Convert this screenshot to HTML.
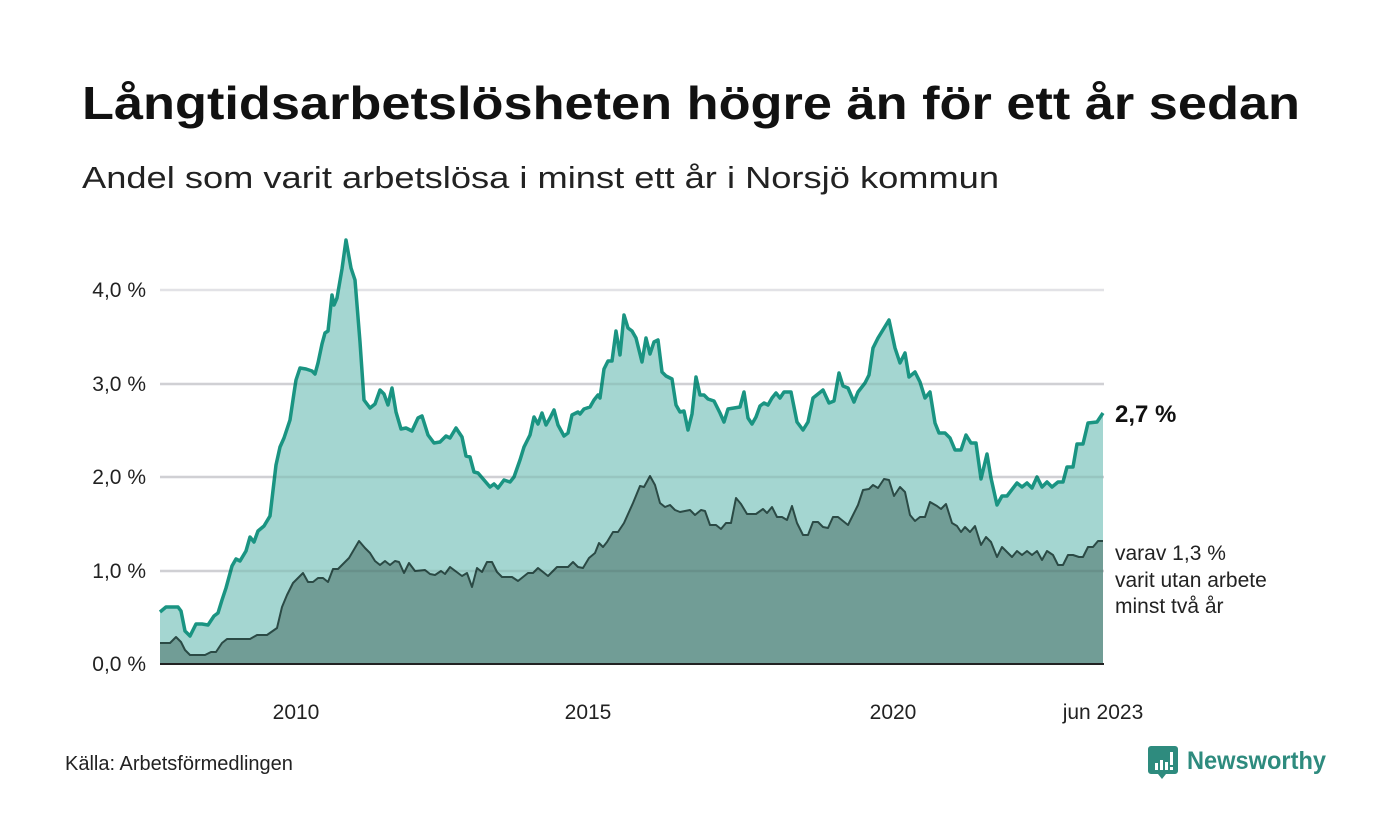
<!DOCTYPE html>
<html><head><meta charset="utf-8"><style>html,body{margin:0;padding:0;background:#fff}svg{display:block}</style></head><body>
<svg width="1400" height="840" xmlns="http://www.w3.org/2000/svg" font-family="'Liberation Sans', 'DejaVu Sans', sans-serif">
<rect width="1400" height="840" fill="#fff"/>
<text x="82" y="119" font-size="46" font-weight="bold" fill="#111" textLength="1218" lengthAdjust="spacingAndGlyphs">Långtidsarbetslösheten högre än för ett år sedan</text>
<text x="82" y="188" font-size="31" fill="#222" textLength="917" lengthAdjust="spacingAndGlyphs">Andel som varit arbetslösa i minst ett år i Norsjö kommun</text>
<g stroke="#e2e2e6" stroke-width="2.5">
<line x1="160" y1="290" x2="1104" y2="290"/><line x1="160" y1="384" x2="1104" y2="384"/><line x1="160" y1="477" x2="1104" y2="477"/><line x1="160" y1="571" x2="1104" y2="571"/>
</g>
<g font-size="21" fill="#222" text-anchor="end">
<text x="146" y="297">4,0 %</text><text x="146" y="391">3,0 %</text><text x="146" y="484">2,0 %</text><text x="146" y="578">1,0 %</text><text x="146" y="671">0,0 %</text>
</g>
<polygon fill="#a4d6d1" points="160,664 160,612 166,607 172,607 178,607 181,611 185,631 190,636 196,624 202,624 208,625 214,616 218,613 222,600 226,588 232,566 236,559 240,561 246,551 250,537 254,542 258,531 264,526 270,516 276,465 280,447 284,438 290,420 294,393 296,380 300,368 306,369 312,371 315,374 318,363 322,344 325,333 328,331 332,295 334,305 337,298 342,269 346,240 351,268 355,280 360,342 364,400 370,408 375,404 380,390 384,394 388,405 392,388 396,412 401,429 406,428 412,431 418,418 422,416 428,435 434,443 440,442 446,436 450,438 456,428 462,437 466,456 470,457 474,472 478,473 484,480 490,487 494,484 498,488 504,480 510,482 514,477 520,460 524,447 530,435 534,417 538,424 542,413 546,425 550,418 554,410 558,425 564,436 568,433 572,415 578,412 580,414 584,409 590,407 594,400 598,395 600,398 604,369 608,361 612,361 616,331 620,355 624,315 628,328 632,331 636,338 642,362 646,338 650,354 654,342 658,340 662,372 666,376 672,379 676,405 680,412 684,411 688,430 692,414 696,377 700,395 704,395 708,399 714,401 720,413 724,422 728,409 734,408 740,407 744,392 748,418 752,424 756,417 760,406 764,403 768,405 772,398 776,393 780,398 784,392 791,392 797,422 803,430 808,422 813,398 823,390 829,403 834,401 839,373 843,386 848,388 854,402 858,392 865,383 869,375 873,348 878,338 889,320 895,348 900,363 905,353 909,377 915,372 920,382 925,398 930,392 935,423 939,433 945,433 950,438 955,450 961,450 966,435 971,443 976,443 981,479 987,454 991,478 997,505 1002,496 1007,496 1017,483 1022,487 1027,483 1032,488 1037,477 1042,487 1047,482 1052,487 1058,482 1063,482 1067,467 1073,467 1077,444 1083,444 1088,423 1097,422 1103,413 1103,664"/>
<polyline fill="none" stroke="#1a9482" stroke-width="3.5" stroke-linejoin="round" points="160,612 166,607 172,607 178,607 181,611 185,631 190,636 196,624 202,624 208,625 214,616 218,613 222,600 226,588 232,566 236,559 240,561 246,551 250,537 254,542 258,531 264,526 270,516 276,465 280,447 284,438 290,420 294,393 296,380 300,368 306,369 312,371 315,374 318,363 322,344 325,333 328,331 332,295 334,305 337,298 342,269 346,240 351,268 355,280 360,342 364,400 370,408 375,404 380,390 384,394 388,405 392,388 396,412 401,429 406,428 412,431 418,418 422,416 428,435 434,443 440,442 446,436 450,438 456,428 462,437 466,456 470,457 474,472 478,473 484,480 490,487 494,484 498,488 504,480 510,482 514,477 520,460 524,447 530,435 534,417 538,424 542,413 546,425 550,418 554,410 558,425 564,436 568,433 572,415 578,412 580,414 584,409 590,407 594,400 598,395 600,398 604,369 608,361 612,361 616,331 620,355 624,315 628,328 632,331 636,338 642,362 646,338 650,354 654,342 658,340 662,372 666,376 672,379 676,405 680,412 684,411 688,430 692,414 696,377 700,395 704,395 708,399 714,401 720,413 724,422 728,409 734,408 740,407 744,392 748,418 752,424 756,417 760,406 764,403 768,405 772,398 776,393 780,398 784,392 791,392 797,422 803,430 808,422 813,398 823,390 829,403 834,401 839,373 843,386 848,388 854,402 858,392 865,383 869,375 873,348 878,338 889,320 895,348 900,363 905,353 909,377 915,372 920,382 925,398 930,392 935,423 939,433 945,433 950,438 955,450 961,450 966,435 971,443 976,443 981,479 987,454 991,478 997,505 1002,496 1007,496 1017,483 1022,487 1027,483 1032,488 1037,477 1042,487 1047,482 1052,487 1058,482 1063,482 1067,467 1073,467 1077,444 1083,444 1088,423 1097,422 1103,413"/>
<polygon fill="#719d96" points="160,664 160,643 170,643 176,637 181,642 185,650 190,655 205,655 211,652 216,652 222,643 227,639 250,639 257,635 267,635 277,628 282,607 287,595 293,583 303,573 308,582 313,582 318,578 323,578 328,582 333,569 338,569 349,558 359,541 365,548 370,553 375,561 380,565 385,561 390,565 395,561 399,562 404,573 409,563 415,571 425,570 430,574 435,575 441,571 445,574 450,567 462,576 467,573 472,587 477,568 482,572 487,562 492,562 497,572 502,577 512,577 518,581 528,573 533,573 538,568 548,576 557,567 568,567 573,562 578,567 583,568 589,558 595,553 599,543 603,547 607,542 613,532 618,532 624,523 633,503 640,486 644,487 650,476 655,485 660,503 665,507 670,505 675,510 680,512 685,511 690,510 695,515 701,510 705,511 710,525 716,525 721,529 726,523 731,523 736,498 741,504 747,514 756,514 763,509 767,513 772,507 777,517 782,517 787,520 792,506 797,523 803,535 808,535 813,522 818,522 823,527 828,528 833,517 838,517 848,525 858,505 863,490 869,489 873,485 878,488 884,479 889,480 894,496 900,487 905,492 910,515 915,521 920,517 925,517 930,502 937,506 941,509 946,504 952,523 957,526 961,532 965,527 970,532 975,526 981,545 986,537 991,542 997,557 1002,547 1012,557 1017,551 1022,555 1027,551 1032,555 1037,551 1042,560 1047,551 1053,555 1058,565 1063,565 1068,555 1073,555 1079,557 1083,557 1088,547 1093,547 1098,541 1103,541 1103,664"/>
<polyline fill="none" stroke="#2b4a45" stroke-width="2" stroke-linejoin="round" points="160,643 170,643 176,637 181,642 185,650 190,655 205,655 211,652 216,652 222,643 227,639 250,639 257,635 267,635 277,628 282,607 287,595 293,583 303,573 308,582 313,582 318,578 323,578 328,582 333,569 338,569 349,558 359,541 365,548 370,553 375,561 380,565 385,561 390,565 395,561 399,562 404,573 409,563 415,571 425,570 430,574 435,575 441,571 445,574 450,567 462,576 467,573 472,587 477,568 482,572 487,562 492,562 497,572 502,577 512,577 518,581 528,573 533,573 538,568 548,576 557,567 568,567 573,562 578,567 583,568 589,558 595,553 599,543 603,547 607,542 613,532 618,532 624,523 633,503 640,486 644,487 650,476 655,485 660,503 665,507 670,505 675,510 680,512 685,511 690,510 695,515 701,510 705,511 710,525 716,525 721,529 726,523 731,523 736,498 741,504 747,514 756,514 763,509 767,513 772,507 777,517 782,517 787,520 792,506 797,523 803,535 808,535 813,522 818,522 823,527 828,528 833,517 838,517 848,525 858,505 863,490 869,489 873,485 878,488 884,479 889,480 894,496 900,487 905,492 910,515 915,521 920,517 925,517 930,502 937,506 941,509 946,504 952,523 957,526 961,532 965,527 970,532 975,526 981,545 986,537 991,542 997,557 1002,547 1012,557 1017,551 1022,555 1027,551 1032,555 1037,551 1042,560 1047,551 1053,555 1058,565 1063,565 1068,555 1073,555 1079,557 1083,557 1088,547 1093,547 1098,541 1103,541"/>
<g stroke="#000" stroke-opacity="0.08" stroke-width="2.5">
<line x1="160" y1="477" x2="1104" y2="477"/><line x1="160" y1="571" x2="1104" y2="571"/><line x1="160" y1="384" x2="1104" y2="384"/>
</g>
<line x1="160" y1="664" x2="1104" y2="664" stroke="#222" stroke-width="2"/>
<g font-size="21" fill="#222" text-anchor="middle">
<text x="296" y="719">2010</text><text x="588" y="719">2015</text><text x="893" y="719">2020</text><text x="1103" y="719">jun 2023</text>
</g>
<text x="1115" y="422" font-size="24" font-weight="bold" fill="#111">2,7 %</text>
<g font-size="21" fill="#222">
<text x="1115" y="560">varav 1,3 %</text><text x="1115" y="587">varit utan arbete</text><text x="1115" y="613">minst två år</text>
</g>
<text x="65" y="770" font-size="20" fill="#222">Källa: Arbetsförmedlingen</text>
<g>
<path d="M1151,746 h24 a3,3 0 0 1 3,3 v22 a3,3 0 0 1 -3,3 h-9 l-4,5 l-4,-5 h-7 a3,3 0 0 1 -3,-3 v-22 a3,3 0 0 1 3,-3z" fill="#2e8b7e"/>
<rect x="1155" y="763" width="3" height="7" fill="#fff"/><rect x="1160" y="760" width="3" height="10" fill="#fff"/><rect x="1165" y="762" width="3" height="8" fill="#fff"/><rect x="1170" y="752" width="3" height="13" fill="#fff"/><rect x="1170" y="767" width="3" height="3" fill="#fff"/>
<text x="1187" y="769" font-size="25" font-weight="bold" fill="#2e8b7e" textLength="139" lengthAdjust="spacingAndGlyphs">Newsworthy</text>
</g>
</svg>
</body></html>
